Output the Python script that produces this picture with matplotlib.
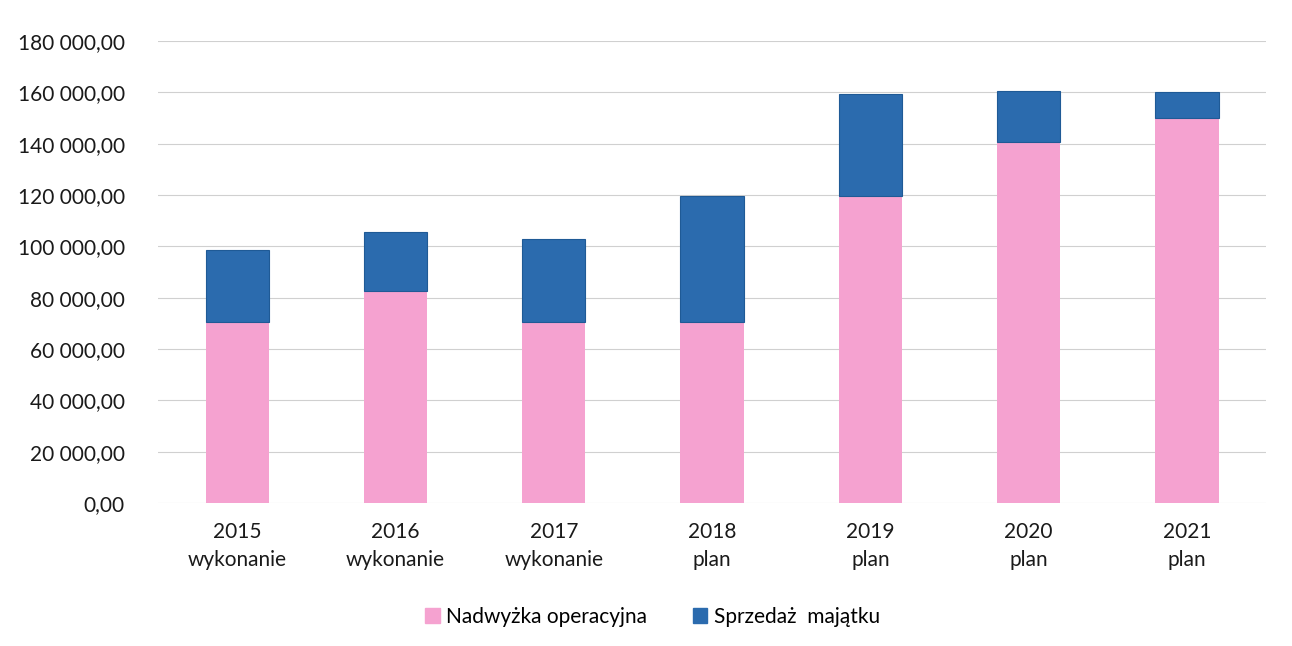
import matplotlib.pyplot as plt
import matplotlib.patches as mpatches
from matplotlib.ticker import FuncFormatter

# Data
years = ["2015\nwykonanie", "2016\nwykonanie", "2017\nwykonanie",
         "2018\nplan", "2019\nplan", "2020\nplan", "2021\nplan"]
nadwyzka = [70500, 82500, 70500, 70500, 119500, 140700, 150000]
sprzedaz = [27900, 23100, 32500, 49300, 40000, 19700, 10000]

pink = "#F5A2D0"
blue = "#2B6BAE"

plt.rcParams['font.family'] = ['Lato', 'DejaVu Sans']

fig = plt.figure(figsize=(12.92, 6.46), dpi=100)
ax = fig.add_axes([0.1223, 0.2214, 0.8577, 0.7151])

x = range(len(years))
ax.bar(x, nadwyzka, width=0.4, color=pink, zorder=2)
ax.bar(x, sprzedaz, width=0.4, bottom=nadwyzka, color=blue,
       edgecolor="#1F5A96", linewidth=0.8, zorder=2)

ax.set_xlim(-0.5, len(years) - 0.5)
ax.set_ylim(0, 180000)
ax.set_yticks(range(0, 180001, 20000))
ax.yaxis.set_major_formatter(FuncFormatter(
    lambda v, p: "{:,.2f}".format(v).replace(",", " ").replace(".", ",")))
ax.set_xticks(list(x))
ax.set_xticklabels(years, linespacing=1.45)

ax.grid(axis="y", color="#d0d0d0", linewidth=0.8, zorder=0)
for s in ax.spines.values():
    s.set_visible(False)
ax.tick_params(length=0, labelsize=15, colors="#1a1a1a")
ax.tick_params(axis="y", pad=24)
ax.tick_params(axis="x", pad=14)

handles = [mpatches.Patch(color=pink, label="Nadwyżka operacyjna"),
           mpatches.Patch(color=blue, label="Sprzedaż  majątku")]
fig.legend(handles=handles, loc="center", bbox_to_anchor=(0.505, 0.045), ncol=2,
           frameon=False, fontsize=15, handlelength=0.7, handleheight=0.7,
           handletextpad=0.3, columnspacing=2.2)

plt.savefig("out.png")
